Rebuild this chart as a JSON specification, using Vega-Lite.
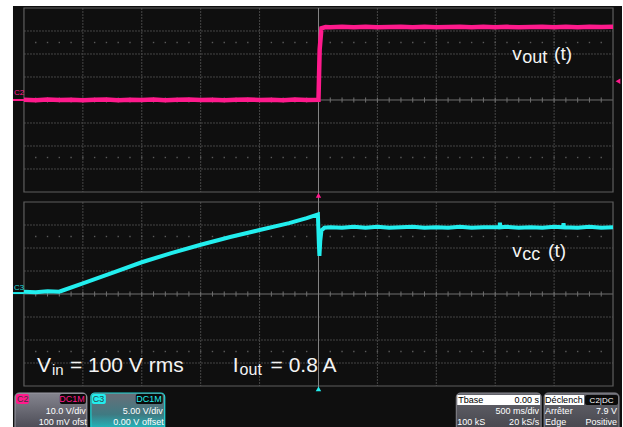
{
"$schema": "https://vega.github.io/schema/vega-lite/v6.json",
"width": 623, "height": 427,
"autosize": {"type": "fit", "contains": "padding"},
"padding": 0,
"background": "white",
"config": {"view": {"stroke": null}, "text": {"font": "Liberation Sans"}},
"data": {"values": [{}]},
"datasets": {
"pink": [{"t":-2.5,"v":0.1},{"t":-2.4,"v":-0.1},{"t":-2.3,"v":0.2},{"t":-2.2,"v":0.0},{"t":-2.1,"v":0.1},{"t":-2.0,"v":-0.1},{"t":-1.9,"v":0.1},{"t":-1.8,"v":0.2},{"t":-1.7,"v":-0.1},{"t":-1.6,"v":0.1},{"t":-1.5,"v":0.0},{"t":-1.4,"v":0.2},{"t":-1.3,"v":-0.1},{"t":-1.2,"v":0.1},{"t":-1.1,"v":0.2},{"t":-1.0,"v":0.0},{"t":-0.9,"v":0.1},{"t":-0.8,"v":-0.1},{"t":-0.7,"v":0.1},{"t":-0.6,"v":0.2},{"t":-0.5,"v":0.0},{"t":-0.4,"v":0.1},{"t":-0.3,"v":-0.1},{"t":-0.2,"v":0.2},{"t":-0.1,"v":0.0},{"t":0.0,"v":0.1},{"t":0.004,"v":9.0},{"t":0.01,"v":22.0},{"t":0.025,"v":31.2},{"t":0.06,"v":31.7},{"t":0.1,"v":31.6},{"t":0.2,"v":31.8},{"t":0.3,"v":31.6},{"t":0.4,"v":31.8},{"t":0.5,"v":31.6},{"t":0.6,"v":31.7},{"t":0.7,"v":31.8},{"t":0.8,"v":31.6},{"t":0.9,"v":31.8},{"t":1.0,"v":31.6},{"t":1.1,"v":31.7},{"t":1.2,"v":31.8},{"t":1.3,"v":31.6},{"t":1.4,"v":31.8},{"t":1.5,"v":31.6},{"t":1.6,"v":31.8},{"t":1.7,"v":31.6},{"t":1.8,"v":31.7},{"t":1.9,"v":31.8},{"t":2.0,"v":31.6},{"t":2.1,"v":31.8},{"t":2.2,"v":31.6},{"t":2.3,"v":31.8},{"t":2.4,"v":31.7},{"t":2.5,"v":31.8}],
"cyan": [{"t":-2.5,"v":0.5},{"t":-2.4,"v":0.4},{"t":-2.3,"v":0.6},{"t":-2.2,"v":0.5},{"t":-2.19,"v":0.6},{"t":-2.0,"v":2.3},{"t":-1.75,"v":4.6},{"t":-1.5,"v":6.9},{"t":-1.25,"v":8.9},{"t":-1.0,"v":10.7},{"t":-0.75,"v":12.4},{"t":-0.5,"v":13.9},{"t":-0.25,"v":15.4},{"t":-0.1,"v":16.5},{"t":-0.005,"v":17.3},{"t":0.003,"v":11.0},{"t":0.008,"v":8.3},{"t":0.015,"v":11.5},{"t":0.025,"v":13.8},{"t":0.05,"v":14.4},{"t":0.1,"v":14.5},{"t":0.2,"v":14.4},{"t":0.3,"v":14.6},{"t":0.4,"v":14.4},{"t":0.5,"v":14.6},{"t":0.6,"v":14.4},{"t":0.7,"v":14.5},{"t":0.8,"v":14.6},{"t":0.9,"v":14.4},{"t":1.0,"v":14.5},{"t":1.1,"v":14.4},{"t":1.2,"v":14.6},{"t":1.3,"v":14.4},{"t":1.4,"v":14.5},{"t":1.537,"v":14.5},{"t":1.54,"v":15.5},{"t":1.543,"v":14.5},{"t":1.6,"v":14.6},{"t":1.7,"v":14.4},{"t":1.8,"v":14.5},{"t":1.9,"v":14.4},{"t":2.0,"v":14.6},{"t":2.077,"v":14.5},{"t":2.08,"v":15.4},{"t":2.083,"v":14.5},{"t":2.2,"v":14.4},{"t":2.3,"v":14.6},{"t":2.4,"v":14.4},{"t":2.5,"v":14.5}],
"vgrid": [{"t":-2.0},{"t":-1.5},{"t":-1.0},{"t":-0.5},{"t":0.5},{"t":1.0},{"t":1.5},{"t":2.0}],
"hgridPk": [{"v":-30},{"v":-20},{"v":-10},{"v":10},{"v":20},{"v":30}],
"hgridCy": [{"v":-15},{"v":-10},{"v":-5},{"v":5},{"v":10},{"v":15}],
"ticks": [{"t":-2.4},{"t":-2.3},{"t":-2.2},{"t":-2.1},{"t":-2.0},{"t":-1.9},{"t":-1.8},{"t":-1.7},{"t":-1.6},{"t":-1.5},{"t":-1.4},{"t":-1.3},{"t":-1.2},{"t":-1.1},{"t":-1.0},{"t":-0.9},{"t":-0.8},{"t":-0.7},{"t":-0.6},{"t":-0.5},{"t":-0.4},{"t":-0.3},{"t":-0.2},{"t":-0.1},{"t":0.1},{"t":0.2},{"t":0.3},{"t":0.4},{"t":0.5},{"t":0.6},{"t":0.7},{"t":0.8},{"t":0.9},{"t":1.0},{"t":1.1},{"t":1.2},{"t":1.3},{"t":1.4},{"t":1.5},{"t":1.6},{"t":1.7},{"t":1.8},{"t":1.9},{"t":2.0},{"t":2.1},{"t":2.2},{"t":2.3},{"t":2.4}]
},
"resolve": {"scale": {"y": "independent"}},
"layer": [
{"mark": {"type": "rect", "color": "#0f0f0f"},
 "encoding": {"x": {"datum": -2.5932, "type": "quantitative", "scale": {"domain": [-2.70339, 2.57627], "nice": false, "zero": false}, "axis": null}, "x2": {"datum": 2.57627},
 "y": {"datum": 62.609, "type": "quantitative", "scale": {"domain": [-28.913, 63.913], "nice": false, "zero": false}, "axis": null}, "y2": {"datum": -28.913}}},

{"data": {"name": "vgrid"}, "mark": {"type": "rule", "color": "#474747", "strokeWidth": 1, "strokeDash": [2, 1]},
 "encoding": {"x": {"field": "t", "type": "quantitative", "scale": {"domain": [-2.70339, 2.57627], "nice": false, "zero": false}, "axis": null},
 "y": {"datum": 40, "type": "quantitative", "scale": {"domain": [-142.174, 43.478], "nice": false, "zero": false}, "axis": null}, "y2": {"datum": -40}}},
{"data": {"name": "vgrid"}, "mark": {"type": "rule", "color": "#474747", "strokeWidth": 1, "strokeDash": [2, 1]},
 "encoding": {"x": {"field": "t", "type": "quantitative", "scale": {"domain": [-2.70339, 2.57627], "nice": false, "zero": false}, "axis": null},
 "y": {"datum": 20, "type": "quantitative", "scale": {"domain": [-28.913, 63.913], "nice": false, "zero": false}, "axis": null}, "y2": {"datum": -20}}},
{"data": {"name": "hgridPk"}, "mark": {"type": "rule", "color": "#474747", "strokeWidth": 1, "strokeDash": [2, 1]},
 "encoding": {"x": {"datum": -2.5, "type": "quantitative", "scale": {"domain": [-2.70339, 2.57627], "nice": false, "zero": false}, "axis": null}, "x2": {"datum": 2.5},
 "y": {"field": "v", "type": "quantitative", "scale": {"domain": [-142.174, 43.478], "nice": false, "zero": false}, "axis": null}}},
{"data": {"name": "hgridCy"}, "mark": {"type": "rule", "color": "#474747", "strokeWidth": 1, "strokeDash": [2, 1]},
 "encoding": {"x": {"datum": -2.5, "type": "quantitative", "scale": {"domain": [-2.70339, 2.57627], "nice": false, "zero": false}, "axis": null}, "x2": {"datum": 2.5},
 "y": {"field": "v", "type": "quantitative", "scale": {"domain": [-28.913, 63.913], "nice": false, "zero": false}, "axis": null}}},

{"data": {"name": "ticks"}, "mark": {"type": "square", "color": "#5a5a5a", "size": 2, "opacity": 1},
 "encoding": {"x": {"field": "t", "type": "quantitative", "scale": {"domain": [-2.70339, 2.57627], "nice": false, "zero": false}, "axis": null},
 "y": {"datum": 25, "type": "quantitative", "scale": {"domain": [-142.174, 43.478], "nice": false, "zero": false}, "axis": null}}},
{"data": {"name": "ticks"}, "mark": {"type": "square", "color": "#5a5a5a", "size": 2, "opacity": 1},
 "encoding": {"x": {"field": "t", "type": "quantitative", "scale": {"domain": [-2.70339, 2.57627], "nice": false, "zero": false}, "axis": null},
 "y": {"datum": -25, "type": "quantitative", "scale": {"domain": [-142.174, 43.478], "nice": false, "zero": false}, "axis": null}}},
{"data": {"name": "ticks"}, "mark": {"type": "square", "color": "#5a5a5a", "size": 2, "opacity": 1},
 "encoding": {"x": {"field": "t", "type": "quantitative", "scale": {"domain": [-2.70339, 2.57627], "nice": false, "zero": false}, "axis": null},
 "y": {"datum": 12.5, "type": "quantitative", "scale": {"domain": [-28.913, 63.913], "nice": false, "zero": false}, "axis": null}}},
{"data": {"name": "ticks"}, "mark": {"type": "square", "color": "#5a5a5a", "size": 2, "opacity": 1},
 "encoding": {"x": {"field": "t", "type": "quantitative", "scale": {"domain": [-2.70339, 2.57627], "nice": false, "zero": false}, "axis": null},
 "y": {"datum": -12.5, "type": "quantitative", "scale": {"domain": [-28.913, 63.913], "nice": false, "zero": false}, "axis": null}}},

{"mark": {"type": "rule", "color": "#707070", "strokeWidth": 1},
 "encoding": {"x": {"datum": -2.5, "type": "quantitative", "scale": {"domain": [-2.70339, 2.57627], "nice": false, "zero": false}, "axis": null}, "x2": {"datum": 2.5},
 "y": {"datum": 0, "type": "quantitative", "scale": {"domain": [-142.174, 43.478], "nice": false, "zero": false}, "axis": null}}},
{"mark": {"type": "rule", "color": "#707070", "strokeWidth": 1},
 "encoding": {"x": {"datum": -2.5, "type": "quantitative", "scale": {"domain": [-2.70339, 2.57627], "nice": false, "zero": false}, "axis": null}, "x2": {"datum": 2.5},
 "y": {"datum": 0, "type": "quantitative", "scale": {"domain": [-28.913, 63.913], "nice": false, "zero": false}, "axis": null}}},
{"data": {"name": "ticks"}, "mark": {"type": "rule", "color": "#707070", "strokeWidth": 1},
 "encoding": {"x": {"field": "t", "type": "quantitative", "scale": {"domain": [-2.70339, 2.57627], "nice": false, "zero": false}, "axis": null},
 "y": {"datum": 1.1, "type": "quantitative", "scale": {"domain": [-142.174, 43.478], "nice": false, "zero": false}, "axis": null}, "y2": {"datum": -1.1}}},
{"data": {"name": "ticks"}, "mark": {"type": "rule", "color": "#707070", "strokeWidth": 1},
 "encoding": {"x": {"field": "t", "type": "quantitative", "scale": {"domain": [-2.70339, 2.57627], "nice": false, "zero": false}, "axis": null},
 "y": {"datum": 0.55, "type": "quantitative", "scale": {"domain": [-28.913, 63.913], "nice": false, "zero": false}, "axis": null}, "y2": {"datum": -0.55}}},

{"mark": {"type": "rect", "filled": false, "color": "#5e5e5e", "strokeWidth": 1.2},
 "encoding": {"x": {"datum": -2.5, "type": "quantitative", "scale": {"domain": [-2.70339, 2.57627], "nice": false, "zero": false}, "axis": null}, "x2": {"datum": 2.5},
 "y": {"datum": 40, "type": "quantitative", "scale": {"domain": [-142.174, 43.478], "nice": false, "zero": false}, "axis": null}, "y2": {"datum": -40}}},
{"mark": {"type": "rect", "filled": false, "color": "#5e5e5e", "strokeWidth": 1.2},
 "encoding": {"x": {"datum": -2.5, "type": "quantitative", "scale": {"domain": [-2.70339, 2.57627], "nice": false, "zero": false}, "axis": null}, "x2": {"datum": 2.5},
 "y": {"datum": 20, "type": "quantitative", "scale": {"domain": [-28.913, 63.913], "nice": false, "zero": false}, "axis": null}, "y2": {"datum": -20}}},
{"mark": {"type": "rule", "color": "#858585", "strokeWidth": 1},
 "encoding": {"x": {"datum": 0, "type": "quantitative", "scale": {"domain": [-2.70339, 2.57627], "nice": false, "zero": false}, "axis": null},
 "y": {"datum": 62.17, "type": "quantitative", "scale": {"domain": [-28.913, 63.913], "nice": false, "zero": false}, "axis": null}, "y2": {"datum": -20.4}}},

{"mark": {"type": "rule", "color": "#ff1a8c", "strokeWidth": 2},
 "encoding": {"x": {"datum": -2.5932, "type": "quantitative", "scale": {"domain": [-2.70339, 2.57627], "nice": false, "zero": false}, "axis": null}, "x2": {"datum": -2.5},
 "y": {"datum": 0, "type": "quantitative", "scale": {"domain": [-142.174, 43.478], "nice": false, "zero": false}, "axis": null}}},
{"mark": {"type": "rule", "color": "#22eeee", "strokeWidth": 2},
 "encoding": {"x": {"datum": -2.5932, "type": "quantitative", "scale": {"domain": [-2.70339, 2.57627], "nice": false, "zero": false}, "axis": null}, "x2": {"datum": -2.5},
 "y": {"datum": 0.2, "type": "quantitative", "scale": {"domain": [-28.913, 63.913], "nice": false, "zero": false}, "axis": null}}},
{"mark": {"type": "text", "text": "C2", "fontSize": 8, "color": "#ff1a8c", "align": "left", "baseline": "alphabetic"},
 "encoding": {"x": {"datum": -2.5847, "type": "quantitative", "scale": {"domain": [-2.70339, 2.57627], "nice": false, "zero": false}, "axis": null},
 "y": {"datum": 43.2, "type": "quantitative", "scale": {"domain": [-28.913, 63.913], "nice": false, "zero": false}, "axis": null}}},
{"mark": {"type": "text", "text": "C3", "fontSize": 8, "color": "#22d8d8", "align": "left", "baseline": "alphabetic"},
 "encoding": {"x": {"datum": -2.5847, "type": "quantitative", "scale": {"domain": [-2.70339, 2.57627], "nice": false, "zero": false}, "axis": null},
 "y": {"datum": 0.85, "type": "quantitative", "scale": {"domain": [-28.913, 63.913], "nice": false, "zero": false}, "axis": null}}},

{"data": {"name": "pink"}, "mark": {"type": "line", "color": "#ff1a8c", "strokeWidth": 4.5},
 "encoding": {"x": {"field": "t", "type": "quantitative", "scale": {"domain": [-2.70339, 2.57627], "nice": false, "zero": false}, "axis": null},
 "y": {"field": "v", "type": "quantitative", "scale": {"domain": [-142.174, 43.478], "nice": false, "zero": false}, "axis": null}}},
{"data": {"name": "cyan"}, "mark": {"type": "line", "color": "#22eeee", "strokeWidth": 4},
 "encoding": {"x": {"field": "t", "type": "quantitative", "scale": {"domain": [-2.70339, 2.57627], "nice": false, "zero": false}, "axis": null},
 "y": {"field": "v", "type": "quantitative", "scale": {"domain": [-28.913, 63.913], "nice": false, "zero": false}, "axis": null}}},

{"mark": {"type": "point", "shape": "triangle-up", "filled": true, "color": "#ff1a8c", "size": 30, "opacity": 1},
 "encoding": {"x": {"datum": 0, "type": "quantitative", "scale": {"domain": [-2.70339, 2.57627], "nice": false, "zero": false}, "axis": null},
 "y": {"datum": 21.46, "type": "quantitative", "scale": {"domain": [-28.913, 63.913], "nice": false, "zero": false}, "axis": null}}},
{"mark": {"type": "point", "shape": "triangle-up", "filled": true, "color": "#22eeee", "size": 30, "opacity": 1},
 "encoding": {"x": {"datum": 0, "type": "quantitative", "scale": {"domain": [-2.70339, 2.57627], "nice": false, "zero": false}, "axis": null},
 "y": {"datum": -20.65, "type": "quantitative", "scale": {"domain": [-28.913, 63.913], "nice": false, "zero": false}, "axis": null}}},
{"mark": {"type": "point", "shape": "triangle-left", "filled": true, "color": "#ff1a8c", "size": 30, "opacity": 1},
 "encoding": {"x": {"datum": 2.542, "type": "quantitative", "scale": {"domain": [-2.70339, 2.57627], "nice": false, "zero": false}, "axis": null},
 "y": {"datum": 8.2, "type": "quantitative", "scale": {"domain": [-142.174, 43.478], "nice": false, "zero": false}, "axis": null}}},

{"mark": {"type": "text", "text": "v", "fontSize": 19, "color": "#f4f4f4", "align": "left", "baseline": "alphabetic"},
 "encoding": {"x": {"datum": 1.6441, "type": "quantitative", "scale": {"domain": [-2.70339, 2.57627], "nice": false, "zero": false}, "axis": null},
 "y": {"datum": 50.87, "type": "quantitative", "scale": {"domain": [-28.913, 63.913], "nice": false, "zero": false}, "axis": null}}},
{"mark": {"type": "text", "text": "out", "fontSize": 18, "color": "#f4f4f4", "align": "left", "baseline": "alphabetic"},
 "encoding": {"x": {"datum": 1.7288, "type": "quantitative", "scale": {"domain": [-2.70339, 2.57627], "nice": false, "zero": false}, "axis": null},
 "y": {"datum": 50.217, "type": "quantitative", "scale": {"domain": [-28.913, 63.913], "nice": false, "zero": false}, "axis": null}}},
{"mark": {"type": "text", "text": "(t)", "fontSize": 19, "color": "#f4f4f4", "align": "left", "baseline": "alphabetic"},
 "encoding": {"x": {"datum": 2.0, "type": "quantitative", "scale": {"domain": [-2.70339, 2.57627], "nice": false, "zero": false}, "axis": null},
 "y": {"datum": 50.87, "type": "quantitative", "scale": {"domain": [-28.913, 63.913], "nice": false, "zero": false}, "axis": null}}},
{"mark": {"type": "text", "text": "v", "fontSize": 19, "color": "#f4f4f4", "align": "left", "baseline": "alphabetic"},
 "encoding": {"x": {"datum": 1.6441, "type": "quantitative", "scale": {"domain": [-2.70339, 2.57627], "nice": false, "zero": false}, "axis": null},
 "y": {"datum": 8.043, "type": "quantitative", "scale": {"domain": [-28.913, 63.913], "nice": false, "zero": false}, "axis": null}}},
{"mark": {"type": "text", "text": "cc", "fontSize": 18, "color": "#f4f4f4", "align": "left", "baseline": "alphabetic"},
 "encoding": {"x": {"datum": 1.7288, "type": "quantitative", "scale": {"domain": [-2.70339, 2.57627], "nice": false, "zero": false}, "axis": null},
 "y": {"datum": 7.391, "type": "quantitative", "scale": {"domain": [-28.913, 63.913], "nice": false, "zero": false}, "axis": null}}},
{"mark": {"type": "text", "text": "(t)", "fontSize": 19, "color": "#f4f4f4", "align": "left", "baseline": "alphabetic"},
 "encoding": {"x": {"datum": 1.9492, "type": "quantitative", "scale": {"domain": [-2.70339, 2.57627], "nice": false, "zero": false}, "axis": null},
 "y": {"datum": 8.043, "type": "quantitative", "scale": {"domain": [-28.913, 63.913], "nice": false, "zero": false}, "axis": null}}},
{"mark": {"type": "text", "text": "V", "fontSize": 21, "color": "#f4f4f4", "align": "left", "baseline": "alphabetic"},
 "encoding": {"x": {"datum": -2.3898, "type": "quantitative", "scale": {"domain": [-2.70339, 2.57627], "nice": false, "zero": false}, "axis": null},
 "y": {"datum": -16.957, "type": "quantitative", "scale": {"domain": [-28.913, 63.913], "nice": false, "zero": false}, "axis": null}}},
{"mark": {"type": "text", "text": "in", "fontSize": 15, "color": "#f4f4f4", "align": "left", "baseline": "alphabetic"},
 "encoding": {"x": {"datum": -2.2627, "type": "quantitative", "scale": {"domain": [-2.70339, 2.57627], "nice": false, "zero": false}, "axis": null},
 "y": {"datum": -17.609, "type": "quantitative", "scale": {"domain": [-28.913, 63.913], "nice": false, "zero": false}, "axis": null}}},
{"mark": {"type": "text", "text": "= 100 V rms", "fontSize": 21, "color": "#f4f4f4", "align": "left", "baseline": "alphabetic"},
 "encoding": {"x": {"datum": -2.1102, "type": "quantitative", "scale": {"domain": [-2.70339, 2.57627], "nice": false, "zero": false}, "axis": null},
 "y": {"datum": -16.957, "type": "quantitative", "scale": {"domain": [-28.913, 63.913], "nice": false, "zero": false}, "axis": null}}},
{"mark": {"type": "text", "text": "I", "fontSize": 21, "color": "#f4f4f4", "align": "left", "baseline": "alphabetic"},
 "encoding": {"x": {"datum": -0.7288, "type": "quantitative", "scale": {"domain": [-2.70339, 2.57627], "nice": false, "zero": false}, "axis": null},
 "y": {"datum": -16.957, "type": "quantitative", "scale": {"domain": [-28.913, 63.913], "nice": false, "zero": false}, "axis": null}}},
{"mark": {"type": "text", "text": "out", "fontSize": 16, "color": "#f4f4f4", "align": "left", "baseline": "alphabetic"},
 "encoding": {"x": {"datum": -0.6695, "type": "quantitative", "scale": {"domain": [-2.70339, 2.57627], "nice": false, "zero": false}, "axis": null},
 "y": {"datum": -17.609, "type": "quantitative", "scale": {"domain": [-28.913, 63.913], "nice": false, "zero": false}, "axis": null}}},
{"mark": {"type": "text", "text": "= 0.8 A", "fontSize": 21, "color": "#f4f4f4", "align": "left", "baseline": "alphabetic"},
 "encoding": {"x": {"datum": -0.4068, "type": "quantitative", "scale": {"domain": [-2.70339, 2.57627], "nice": false, "zero": false}, "axis": null},
 "y": {"datum": -16.957, "type": "quantitative", "scale": {"domain": [-28.913, 63.913], "nice": false, "zero": false}, "axis": null}}},

{"mark": {"type": "rect", "cornerRadius": 4, "clip": true, "stroke": "#9a9aa4", "strokeWidth": 1, "fill": {"gradient": "linear", "x1": 0, "y1": 0, "x2": 0, "y2": 1, "stops": [{"offset": 0, "color": "#85858f"}, {"offset": 1, "color": "#45454f"}]}},
 "encoding": {"x": {"datum": -2.5763, "type": "quantitative", "scale": {"domain": [-2.70339, 2.57627], "nice": false, "zero": false}, "axis": null}, "x2": {"datum": -1.9661},
 "y": {"datum": -21.522, "type": "quantitative", "scale": {"domain": [-28.913, 63.913], "nice": false, "zero": false}, "axis": null}, "y2": {"datum": -30}}},
{"mark": {"type": "rect", "cornerRadius": 4, "clip": true, "stroke": "#22d8d8", "strokeWidth": 1.2, "fill": {"gradient": "linear", "x1": 0, "y1": 0, "x2": 0, "y2": 1, "stops": [{"offset": 0, "color": "#6a6e78"}, {"offset": 0.55, "color": "#3f7a82"}, {"offset": 1, "color": "#19c8cc"}]}},
 "encoding": {"x": {"datum": -1.9322, "type": "quantitative", "scale": {"domain": [-2.70339, 2.57627], "nice": false, "zero": false}, "axis": null}, "x2": {"datum": -1.3051},
 "y": {"datum": -21.522, "type": "quantitative", "scale": {"domain": [-28.913, 63.913], "nice": false, "zero": false}, "axis": null}, "y2": {"datum": -30}}},
{"mark": {"type": "rect", "cornerRadius": 4, "clip": true, "stroke": "#8a8a92", "strokeWidth": 1, "fill": {"gradient": "linear", "x1": 0, "y1": 0, "x2": 0, "y2": 1, "stops": [{"offset": 0, "color": "#64646c"}, {"offset": 1, "color": "#45454c"}]}},
 "encoding": {"x": {"datum": 1.1695, "type": "quantitative", "scale": {"domain": [-2.70339, 2.57627], "nice": false, "zero": false}, "axis": null}, "x2": {"datum": 1.8898},
 "y": {"datum": -21.522, "type": "quantitative", "scale": {"domain": [-28.913, 63.913], "nice": false, "zero": false}, "axis": null}, "y2": {"datum": -30}}},
{"mark": {"type": "rect", "cornerRadius": 4, "clip": true, "stroke": "#8a8a92", "strokeWidth": 1, "fill": {"gradient": "linear", "x1": 0, "y1": 0, "x2": 0, "y2": 1, "stops": [{"offset": 0, "color": "#64646c"}, {"offset": 1, "color": "#45454c"}]}},
 "encoding": {"x": {"datum": 1.9153, "type": "quantitative", "scale": {"domain": [-2.70339, 2.57627], "nice": false, "zero": false}, "axis": null}, "x2": {"datum": 2.5508},
 "y": {"datum": -21.522, "type": "quantitative", "scale": {"domain": [-28.913, 63.913], "nice": false, "zero": false}, "axis": null}, "y2": {"datum": -30}}},

{"mark": {"type": "rect", "cornerRadius": 2, "color": "#ff1a8c"},
 "encoding": {"x": {"datum": -2.5678, "type": "quantitative", "scale": {"domain": [-2.70339, 2.57627], "nice": false, "zero": false}, "axis": null}, "x2": {"datum": -2.4576},
 "y": {"datum": -21.739, "type": "quantitative", "scale": {"domain": [-28.913, 63.913], "nice": false, "zero": false}, "axis": null}, "y2": {"datum": -23.913}}},
{"mark": {"type": "rect", "cornerRadius": 2, "color": "#0a0a0a"},
 "encoding": {"x": {"datum": -2.1949, "type": "quantitative", "scale": {"domain": [-2.70339, 2.57627], "nice": false, "zero": false}, "axis": null}, "x2": {"datum": -1.9746},
 "y": {"datum": -21.739, "type": "quantitative", "scale": {"domain": [-28.913, 63.913], "nice": false, "zero": false}, "axis": null}, "y2": {"datum": -23.913}}},
{"mark": {"type": "rect", "cornerRadius": 2, "color": "#22eeee"},
 "encoding": {"x": {"datum": -1.9237, "type": "quantitative", "scale": {"domain": [-2.70339, 2.57627], "nice": false, "zero": false}, "axis": null}, "x2": {"datum": -1.8051},
 "y": {"datum": -21.739, "type": "quantitative", "scale": {"domain": [-28.913, 63.913], "nice": false, "zero": false}, "axis": null}, "y2": {"datum": -23.913}}},
{"mark": {"type": "rect", "cornerRadius": 2, "color": "#0a0a0a"},
 "encoding": {"x": {"datum": -1.5508, "type": "quantitative", "scale": {"domain": [-2.70339, 2.57627], "nice": false, "zero": false}, "axis": null}, "x2": {"datum": -1.3220},
 "y": {"datum": -21.739, "type": "quantitative", "scale": {"domain": [-28.913, 63.913], "nice": false, "zero": false}, "axis": null}, "y2": {"datum": -23.913}}},
{"mark": {"type": "rect", "color": "#ffffff"},
 "encoding": {"x": {"datum": 1.178, "type": "quantitative", "scale": {"domain": [-2.70339, 2.57627], "nice": false, "zero": false}, "axis": null}, "x2": {"datum": 1.8814},
 "y": {"datum": -21.957, "type": "quantitative", "scale": {"domain": [-28.913, 63.913], "nice": false, "zero": false}, "axis": null}, "y2": {"datum": -24.13}}},
{"mark": {"type": "rect", "color": "#ffffff"},
 "encoding": {"x": {"datum": 1.9237, "type": "quantitative", "scale": {"domain": [-2.70339, 2.57627], "nice": false, "zero": false}, "axis": null}, "x2": {"datum": 2.2542},
 "y": {"datum": -21.957, "type": "quantitative", "scale": {"domain": [-28.913, 63.913], "nice": false, "zero": false}, "axis": null}, "y2": {"datum": -24.13}}},
{"mark": {"type": "rect", "cornerRadius": 2, "color": "#0a0a0a"},
 "encoding": {"x": {"datum": 2.2627, "type": "quantitative", "scale": {"domain": [-2.70339, 2.57627], "nice": false, "zero": false}, "axis": null}, "x2": {"datum": 2.5424},
 "y": {"datum": -21.957, "type": "quantitative", "scale": {"domain": [-28.913, 63.913], "nice": false, "zero": false}, "axis": null}, "y2": {"datum": -24.13}}},

{"mark": {"type": "text", "text": "C2", "fontSize": 9, "color": "#3a3a3a", "align": "left", "baseline": "alphabetic"},
 "encoding": {"x": {"datum": -2.5593, "type": "quantitative", "scale": {"domain": [-2.70339, 2.57627], "nice": false, "zero": false}, "axis": null},
 "y": {"datum": -23.5, "type": "quantitative", "scale": {"domain": [-28.913, 63.913], "nice": false, "zero": false}, "axis": null}}},
{"mark": {"type": "text", "text": "DC1M", "fontSize": 9, "color": "#ff1a8c", "align": "right", "baseline": "alphabetic"},
 "encoding": {"x": {"datum": -1.9831, "type": "quantitative", "scale": {"domain": [-2.70339, 2.57627], "nice": false, "zero": false}, "axis": null},
 "y": {"datum": -23.5, "type": "quantitative", "scale": {"domain": [-28.913, 63.913], "nice": false, "zero": false}, "axis": null}}},
{"mark": {"type": "text", "text": "10.0 V/div", "fontSize": 9, "color": "#ffffff", "align": "right", "baseline": "alphabetic"},
 "encoding": {"x": {"datum": -1.9746, "type": "quantitative", "scale": {"domain": [-2.70339, 2.57627], "nice": false, "zero": false}, "axis": null},
 "y": {"datum": -26.087, "type": "quantitative", "scale": {"domain": [-28.913, 63.913], "nice": false, "zero": false}, "axis": null}}},
{"mark": {"type": "text", "text": "100 mV ofst", "fontSize": 9, "color": "#ffffff", "align": "right", "baseline": "alphabetic"},
 "encoding": {"x": {"datum": -1.9661, "type": "quantitative", "scale": {"domain": [-2.70339, 2.57627], "nice": false, "zero": false}, "axis": null},
 "y": {"datum": -28.478, "type": "quantitative", "scale": {"domain": [-28.913, 63.913], "nice": false, "zero": false}, "axis": null}}},
{"mark": {"type": "text", "text": "C3", "fontSize": 9, "color": "#2a4a4a", "align": "left", "baseline": "alphabetic"},
 "encoding": {"x": {"datum": -1.9153, "type": "quantitative", "scale": {"domain": [-2.70339, 2.57627], "nice": false, "zero": false}, "axis": null},
 "y": {"datum": -23.5, "type": "quantitative", "scale": {"domain": [-28.913, 63.913], "nice": false, "zero": false}, "axis": null}}},
{"mark": {"type": "text", "text": "DC1M", "fontSize": 9, "color": "#22eeee", "align": "right", "baseline": "alphabetic"},
 "encoding": {"x": {"datum": -1.3305, "type": "quantitative", "scale": {"domain": [-2.70339, 2.57627], "nice": false, "zero": false}, "axis": null},
 "y": {"datum": -23.5, "type": "quantitative", "scale": {"domain": [-28.913, 63.913], "nice": false, "zero": false}, "axis": null}}},
{"mark": {"type": "text", "text": "5.00 V/div", "fontSize": 9, "color": "#ffffff", "align": "right", "baseline": "alphabetic"},
 "encoding": {"x": {"datum": -1.3220, "type": "quantitative", "scale": {"domain": [-2.70339, 2.57627], "nice": false, "zero": false}, "axis": null},
 "y": {"datum": -26.087, "type": "quantitative", "scale": {"domain": [-28.913, 63.913], "nice": false, "zero": false}, "axis": null}}},
{"mark": {"type": "text", "text": "0.00 V offset", "fontSize": 9, "color": "#ffffff", "align": "right", "baseline": "alphabetic"},
 "encoding": {"x": {"datum": -1.3136, "type": "quantitative", "scale": {"domain": [-2.70339, 2.57627], "nice": false, "zero": false}, "axis": null},
 "y": {"datum": -28.478, "type": "quantitative", "scale": {"domain": [-28.913, 63.913], "nice": false, "zero": false}, "axis": null}}},
{"mark": {"type": "text", "text": "Tbase", "fontSize": 9, "color": "#000000", "align": "left", "baseline": "alphabetic"},
 "encoding": {"x": {"datum": 1.1864, "type": "quantitative", "scale": {"domain": [-2.70339, 2.57627], "nice": false, "zero": false}, "axis": null},
 "y": {"datum": -23.7, "type": "quantitative", "scale": {"domain": [-28.913, 63.913], "nice": false, "zero": false}, "axis": null}}},
{"mark": {"type": "text", "text": "0.00 s", "fontSize": 9, "color": "#000000", "align": "right", "baseline": "alphabetic"},
 "encoding": {"x": {"datum": 1.8729, "type": "quantitative", "scale": {"domain": [-2.70339, 2.57627], "nice": false, "zero": false}, "axis": null},
 "y": {"datum": -23.7, "type": "quantitative", "scale": {"domain": [-28.913, 63.913], "nice": false, "zero": false}, "axis": null}}},
{"mark": {"type": "text", "text": "500 ms/div", "fontSize": 9, "color": "#ffffff", "align": "right", "baseline": "alphabetic"},
 "encoding": {"x": {"datum": 1.8729, "type": "quantitative", "scale": {"domain": [-2.70339, 2.57627], "nice": false, "zero": false}, "axis": null},
 "y": {"datum": -26.087, "type": "quantitative", "scale": {"domain": [-28.913, 63.913], "nice": false, "zero": false}, "axis": null}}},
{"mark": {"type": "text", "text": "100 kS", "fontSize": 9, "color": "#ffffff", "align": "left", "baseline": "alphabetic"},
 "encoding": {"x": {"datum": 1.178, "type": "quantitative", "scale": {"domain": [-2.70339, 2.57627], "nice": false, "zero": false}, "axis": null},
 "y": {"datum": -28.478, "type": "quantitative", "scale": {"domain": [-28.913, 63.913], "nice": false, "zero": false}, "axis": null}}},
{"mark": {"type": "text", "text": "20 kS/s", "fontSize": 9, "color": "#ffffff", "align": "right", "baseline": "alphabetic"},
 "encoding": {"x": {"datum": 1.8729, "type": "quantitative", "scale": {"domain": [-2.70339, 2.57627], "nice": false, "zero": false}, "axis": null},
 "y": {"datum": -28.478, "type": "quantitative", "scale": {"domain": [-28.913, 63.913], "nice": false, "zero": false}, "axis": null}}},
{"mark": {"type": "text", "text": "Déclench", "fontSize": 9, "color": "#000000", "align": "left", "baseline": "alphabetic"},
 "encoding": {"x": {"datum": 1.9237, "type": "quantitative", "scale": {"domain": [-2.70339, 2.57627], "nice": false, "zero": false}, "axis": null},
 "y": {"datum": -23.7, "type": "quantitative", "scale": {"domain": [-28.913, 63.913], "nice": false, "zero": false}, "axis": null}}},
{"mark": {"type": "text", "text": "C2|DC", "fontSize": 8, "color": "#ffffff", "align": "center", "baseline": "alphabetic"},
 "encoding": {"x": {"datum": 2.4025, "type": "quantitative", "scale": {"domain": [-2.70339, 2.57627], "nice": false, "zero": false}, "axis": null},
 "y": {"datum": -23.6, "type": "quantitative", "scale": {"domain": [-28.913, 63.913], "nice": false, "zero": false}, "axis": null}}},
{"mark": {"type": "text", "text": "Arrêter", "fontSize": 9, "color": "#ffffff", "align": "left", "baseline": "alphabetic"},
 "encoding": {"x": {"datum": 1.9237, "type": "quantitative", "scale": {"domain": [-2.70339, 2.57627], "nice": false, "zero": false}, "axis": null},
 "y": {"datum": -26.087, "type": "quantitative", "scale": {"domain": [-28.913, 63.913], "nice": false, "zero": false}, "axis": null}}},
{"mark": {"type": "text", "text": "7.9 V", "fontSize": 9, "color": "#ffffff", "align": "right", "baseline": "alphabetic"},
 "encoding": {"x": {"datum": 2.5339, "type": "quantitative", "scale": {"domain": [-2.70339, 2.57627], "nice": false, "zero": false}, "axis": null},
 "y": {"datum": -26.087, "type": "quantitative", "scale": {"domain": [-28.913, 63.913], "nice": false, "zero": false}, "axis": null}}},
{"mark": {"type": "text", "text": "Edge", "fontSize": 9, "color": "#ffffff", "align": "left", "baseline": "alphabetic"},
 "encoding": {"x": {"datum": 1.9237, "type": "quantitative", "scale": {"domain": [-2.70339, 2.57627], "nice": false, "zero": false}, "axis": null},
 "y": {"datum": -28.478, "type": "quantitative", "scale": {"domain": [-28.913, 63.913], "nice": false, "zero": false}, "axis": null}}},
{"mark": {"type": "text", "text": "Positive", "fontSize": 9, "color": "#ffffff", "align": "right", "baseline": "alphabetic"},
 "encoding": {"x": {"datum": 2.5339, "type": "quantitative", "scale": {"domain": [-2.70339, 2.57627], "nice": false, "zero": false}, "axis": null},
 "y": {"datum": -28.478, "type": "quantitative", "scale": {"domain": [-28.913, 63.913], "nice": false, "zero": false}, "axis": null}}}
]
}
